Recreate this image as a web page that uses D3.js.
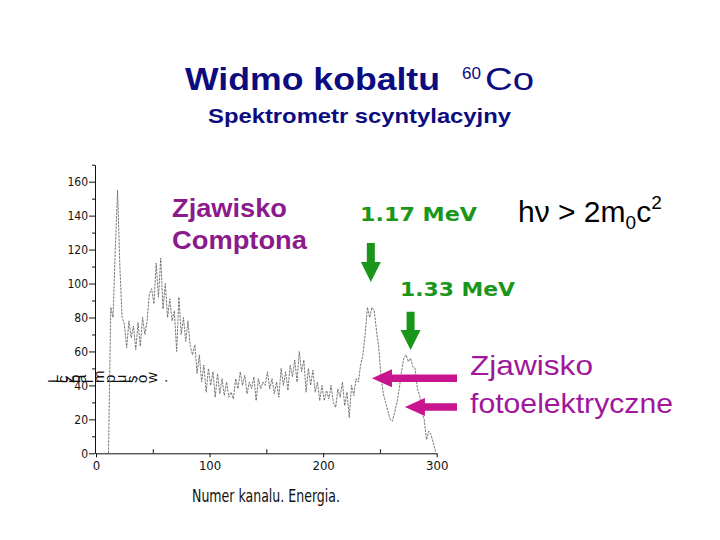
<!DOCTYPE html>
<html>
<head>
<meta charset="utf-8">
<script src="https://cdn.jsdelivr.net/npm/d3@7"></script>
<style>
  body { margin: 0; background: #fff; }
  svg text { font-family: "Liberation Sans", Arial, sans-serif; }
</style>
</head>
<body>
<div id="chart"></div>
<script>
let width = 720,
    height = 540

// spectrum: channel number and counts
let channels = [
    11, 13, 15, 17, 19, 21, 23, 25, 27, 29,
    31, 33, 35, 37, 39, 41, 43, 45, 47, 49,
    51, 53, 55, 57, 59, 61, 63, 65, 67, 69,
    71, 73, 75, 77, 79, 81, 83, 85, 87, 89,
    91, 93, 95, 97, 99, 101, 103, 105, 107, 109,
    111, 113, 115, 117, 119, 121, 123, 125, 127, 129,
    131, 133, 135, 137, 139, 141, 143, 145, 147, 149,
    151, 153, 155, 157, 159, 161, 163, 165, 167, 169,
    171, 173, 175, 177, 179, 181, 183, 185, 187, 189,
    191, 193, 195, 197, 199, 201, 203, 205, 207, 209,
    211, 213, 215, 217, 219, 221, 223, 225, 227, 229,
    231, 233, 235, 237, 239, 241, 243, 245, 247, 249,
    251, 253, 255, 257, 259, 261, 263, 265, 267, 269,
    271, 273, 275, 277, 279, 281, 283, 285, 287, 289,
    291, 293, 295, 297, 299
]
let counts = [
    0, 86, 80, 120, 155, 110, 80, 76, 62, 78,
    68, 75, 61, 77, 63, 80, 70, 78, 94, 97,
    88, 112, 92, 115, 85, 100, 80, 91, 78, 84,
    60, 92, 70, 80, 66, 78, 63, 58, 64, 47,
    58, 42, 52, 36, 50, 40, 48, 33, 47, 35,
    44, 34, 42, 33, 36, 32, 44, 38, 48, 40,
    46, 35, 42, 38, 45, 31, 44, 38, 42, 40,
    48, 38, 44, 35, 42, 33, 50, 40, 48, 37,
    52, 45, 55, 42, 60, 48, 55, 36, 50, 40,
    49, 36, 42, 31, 40, 31, 37, 32, 40, 30,
    27, 38, 33, 42, 28, 36, 21, 40, 34, 44,
    42, 52, 58, 70, 86, 80, 86, 84, 72, 62,
    45, 35, 30, 25, 20, 19, 24, 30, 38, 48,
    56, 58, 54, 56, 51, 50, 38, 34, 24, 20,
    8, 13, 11, 6, 1
]

let xTicks = [0, 100, 200, 300]
let xMinorTicks = [50, 150, 250]
let yTicks = [0, 20, 40, 60, 80, 100, 120, 140, 160]
let yMinorTicks = [10, 30, 50, 70, 90, 110, 130, 150, 170]

// annotation arrows, placed at channel positions
let peakChannels = [242, 277]        // green arrows (1.17 / 1.33 MeV)
let photoChannels = [243, 272]       // magenta arrows (photo peaks)

let green = "#1a961a",
    purple = "#8b1a8b",
    magenta = "#c8148f"

let svg = d3.select("#chart")
    .append("svg")
    .attr("width", width)
    .attr("height", height)

let xScale = d3.scaleLinear()
    .domain([0, 300])
    .range([96, 436.7])

let yScale = d3.scaleLinear()
    .domain([0, 170])
    .range([453.3, 164.7])

// axes
let axisFont = "'Liberation Sans Narrow', 'DejaVu Sans Condensed', sans-serif"

let xAxis = svg.append("g")
    .attr("transform", "translate(0," + yScale(0) + ")")
    .call(d3.axisBottom(xScale).tickValues(xTicks).tickSize(4).tickPadding(3).tickSizeOuter(0))
xAxis.selectAll("text")
    .style("font-family", axisFont)
    .attr("font-size", 13)
    .attr("fill", "#111")

svg.append("g")
    .attr("transform", "translate(0," + yScale(0) + ")")
    .call(d3.axisTop(xScale).tickValues(xMinorTicks).tickSize(4).tickFormat(""))
    .select(".domain").remove()

let yAxis = svg.append("g")
    .attr("transform", "translate(" + (xScale(0) - 1) + ",0)")
    .call(d3.axisLeft(yScale).tickValues(yTicks).tickSize(6).tickPadding(1).tickSizeOuter(0))
yAxis.selectAll("text")
    .style("font-family", axisFont)
    .attr("font-size", 12)
    .attr("fill", "#111")

svg.append("g")
    .attr("transform", "translate(" + (xScale(0) - 1) + ",0)")
    .call(d3.axisLeft(yScale).tickValues(yMinorTicks).tickSize(3).tickFormat(""))
    .select(".domain").remove()

svg.selectAll(".domain, .tick line")
    .attr("stroke", "#111")

// x axis title
svg.append("text")
    .attr("x", 192)
    .attr("y", 502)
    .attr("font-size", 18)
    .attr("textLength", 148)
    .attr("lengthAdjust", "spacingAndGlyphs")
    .attr("fill", "#111")
    .style("font-family", axisFont)
    .text("Numer kanalu. Energia.")

// y axis title (its glyphs come out rotated one by one, as in the original)
let yLabel = "Liczba impulsów ."
let yLabelX = [58, 64, 68, 74, 80, 86, 90, 93, 104, 115, 126, 131, 137, 147, 157, 161, 167]
svg.append("g")
    .selectAll("text")
    .data(yLabel.split(""))
    .enter()
    .append("text")
    .attr("transform", function (d, i) {
        return "translate(" + yLabelX[i] + ",383) rotate(-90)"
    })
    .attr("font-size", 15)
    .attr("fill", "#111")
    .text(function (d) { return d })

// spectrum line
let line = d3.line()
    .x(function (d, i) { return xScale(channels[i]) })
    .y(function (d) { return yScale(d) })

svg.append("path")
    .datum(counts)
    .attr("d", line)
    .attr("fill", "none")
    .attr("stroke", "#6a6a6a")
    .attr("stroke-width", 0.9)
    .attr("stroke-dasharray", "2.5,1")

// titles
let title = svg.append("text")
    .attr("y", 90)
    .attr("fill", "#0c0c80")
title.append("tspan")
    .attr("x", 185)
    .attr("font-size", 32)
    .attr("font-weight", "bold")
    .attr("textLength", 255)
    .attr("lengthAdjust", "spacingAndGlyphs")
    .text("Widmo kobaltu")
title.append("tspan")
    .attr("x", 462)
    .attr("y", 79)
    .attr("font-size", 17)
    .text("60")
title.append("tspan")
    .attr("x", 485)
    .attr("y", 90)
    .attr("font-size", 32)
    .attr("textLength", 49)
    .attr("lengthAdjust", "spacingAndGlyphs")
    .text("Co")

svg.append("text")
    .attr("x", 208)
    .attr("y", 123)
    .attr("font-size", 21)
    .attr("font-weight", "bold")
    .attr("fill", "#0c0c80")
    .attr("textLength", 303)
    .attr("lengthAdjust", "spacingAndGlyphs")
    .text("Spektrometr scyntylacyjny")

// Compton label
let compton = [["Zjawisko", 217, 115], ["Comptona", 249, 135]]
compton.forEach(function (c) {
    svg.append("text")
        .attr("x", 172)
        .attr("y", c[1])
        .attr("font-size", 25)
        .attr("font-weight", "bold")
        .attr("fill", purple)
        .attr("textLength", c[2])
        .attr("lengthAdjust", "spacingAndGlyphs")
        .text(c[0])
})

// energy labels
let energyLabels = [["1.17 MeV", 360, 221, 117], ["1.33 MeV", 400, 296, 115]]
energyLabels.forEach(function (e) {
    svg.append("text")
        .attr("x", e[1])
        .attr("y", e[2])
        .attr("font-size", 19)
        .attr("font-weight", "bold")
        .attr("fill", green)
        .attr("textLength", e[3])
        .attr("lengthAdjust", "spacingAndGlyphs")
        .style("font-family", "'DejaVu Sans', Verdana, sans-serif")
        .text(e[0])
})

// pair production threshold
let hv = svg.append("text")
    .attr("x", 518)
    .attr("y", 222)
    .attr("font-size", 30)
    .attr("fill", "#000")
hv.append("tspan").text("h\u03bd > 2m")
hv.append("tspan").attr("font-size", 19).attr("dy", 7).text("0")
hv.append("tspan").attr("dy", -7).text("c")
hv.append("tspan").attr("font-size", 19).attr("dy", -13).text("2")

// photoelectric label
let photo = [["Zjawisko", 375, 123], ["fotoelektryczne", 413, 203]]
photo.forEach(function (p) {
    svg.append("text")
        .attr("x", 470)
        .attr("y", p[1])
        .attr("font-size", 28)
        .attr("fill", "#a0179b")
        .attr("textLength", p[2])
        .attr("lengthAdjust", "spacingAndGlyphs")
        .text(p[0])
})

// green down arrows
let downTop = [243, 311.7],
    downTip = [282, 350]
peakChannels.forEach(function (ch, i) {
    let cx = xScale(ch)
    let t = downTop[i], b = downTip[i], hs = b - 20
    svg.append("path")
        .attr("d", "M" + (cx - 4) + "," + t + "L" + (cx + 4) + "," + t +
            "L" + (cx + 4) + "," + hs + "L" + (cx + 10) + "," + hs +
            "L" + cx + "," + b + "L" + (cx - 10) + "," + hs +
            "L" + (cx - 4) + "," + hs + "Z")
        .attr("fill", green)
})

// magenta left arrows
let leftY = [378.3, 407]
photoChannels.forEach(function (ch, i) {
    let tip = xScale(ch)
    let cy = leftY[i], tail = 457, hs = tip + 20
    svg.append("path")
        .attr("d", "M" + tail + "," + (cy - 3.8) + "L" + hs + "," + (cy - 3.8) +
            "L" + hs + "," + (cy - 9) + "L" + tip + "," + cy +
            "L" + hs + "," + (cy + 9) + "L" + hs + "," + (cy + 3.8) +
            "L" + tail + "," + (cy + 3.8) + "Z")
        .attr("fill", magenta)
})
</script>
</body>
</html>
